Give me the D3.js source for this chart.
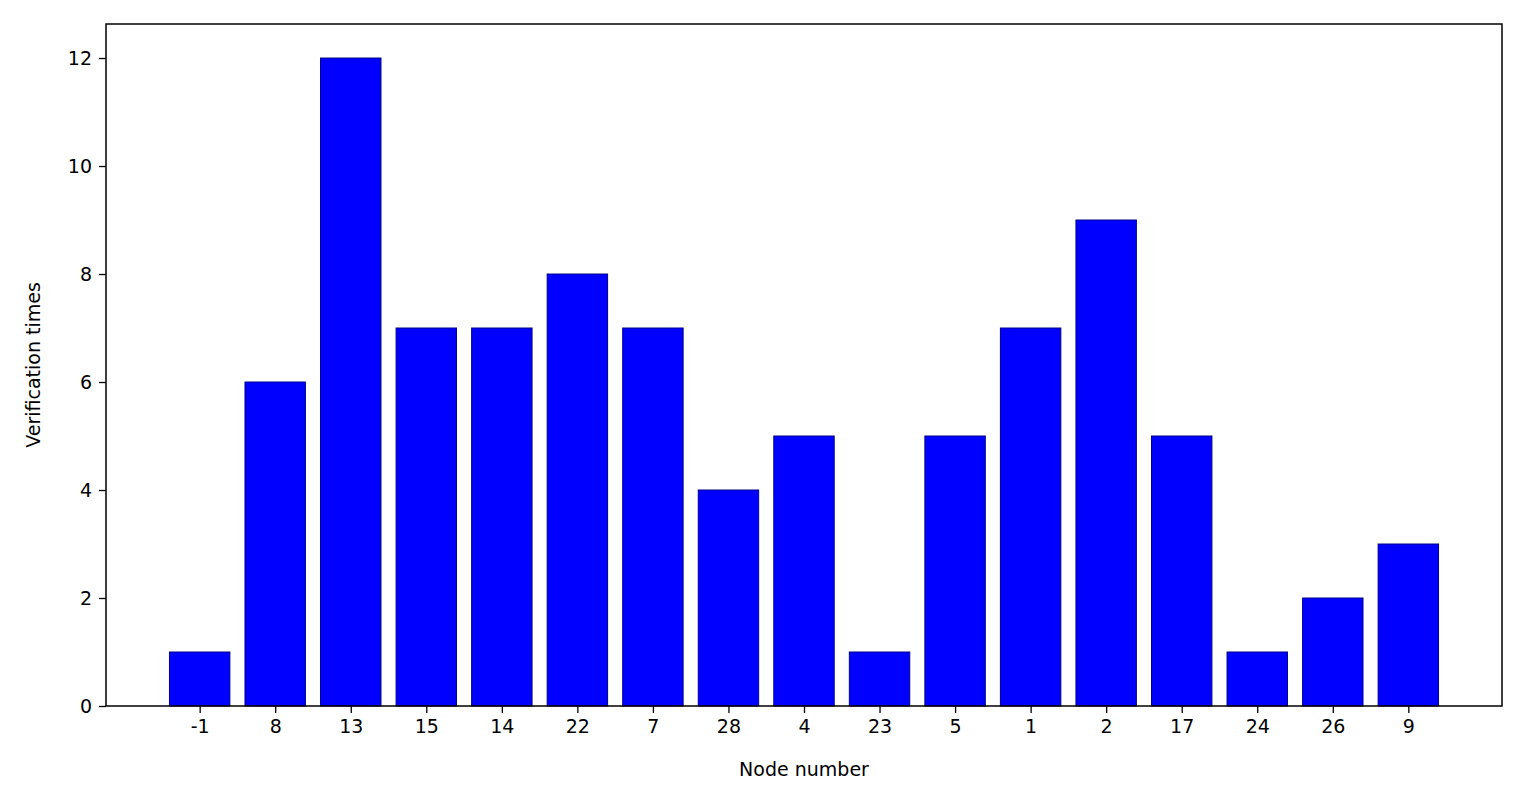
<!DOCTYPE html>
<html>
<head>
<meta charset="utf-8">
<script src="https://cdn.jsdelivr.net/npm/d3@7"></script>
<style>
  body { margin: 0; background: #fff; }
  text { font-family: "DejaVu Sans", sans-serif; fill: #000; }
</style>
</head>
<body>
<div id="chart"></div>
<script>
// data
var nodes = ["-1", "8", "13", "15", "14", "22", "7", "28", "4", "23", "5", "1", "2", "17", "24", "26", "9"];
var times = [1, 6, 12, 7, 7, 8, 7, 4, 5, 1, 5, 7, 9, 5, 1, 2, 3];
var yTicks = [0, 2, 4, 6, 8, 10, 12];

var svgWidth = 1521, svgHeight = 802;
var margin = { top: 24, right: 19, bottom: 96, left: 106 };
var width = svgWidth - margin.left - margin.right;
var height = svgHeight - margin.top - margin.bottom;

var svg = d3.select("#chart").append("svg")
  .attr("width", svgWidth)
  .attr("height", svgHeight);

var chartGroup = svg.append("g")
  .attr("transform", `translate(${margin.left}, ${margin.top})`);

// bar positions like matplotlib: index with 0.8 width and 5% margins
var xScale = d3.scaleLinear().domain([-1.24, nodes.length - 1 + 1.24]).range([0, width]);
var yScale = d3.scaleLinear().domain([0, 12.63]).range([height, 0]);
var barW = xScale(0.8) - xScale(0);

chartGroup.selectAll("rect.bar")
  .data(times)
  .enter()
  .append("rect")
  .classed("bar", true)
  .attr("x", (d, i) => xScale(i - 0.4))
  .attr("y", d => yScale(d))
  .attr("width", barW)
  .attr("height", d => height - yScale(d))
  .attr("fill", "#0000ff")
  .attr("stroke", "#00008b")
  .attr("stroke-width", 1);

// axes
var bottomAxis = d3.axisBottom(xScale)
  .tickValues(d3.range(nodes.length))
  .tickFormat(i => nodes[i])
  .tickSize(7).tickPadding(7);
var leftAxis = d3.axisLeft(yScale).tickValues(yTicks).tickSize(7).tickPadding(7);

var xAxis = chartGroup.append("g")
  .attr("transform", `translate(0, ${height})`)
  .call(bottomAxis);
var yAxis = chartGroup.append("g").call(leftAxis);

[xAxis, yAxis].forEach(function(a) {
  a.select(".domain").remove();
  a.selectAll("line").attr("stroke", "#000").attr("stroke-width", 1.3);
  a.selectAll("text").attr("font-size", "19px").attr("font-family", "DejaVu Sans, sans-serif");
});

// frame
chartGroup.append("rect")
  .attr("width", width).attr("height", height)
  .attr("fill", "none").attr("stroke", "#000").attr("stroke-width", 1.5);

// labels
chartGroup.append("text")
  .attr("x", width / 2)
  .attr("y", height + 70)
  .attr("text-anchor", "middle")
  .attr("font-size", "19px")
  .text("Node number");

chartGroup.append("text")
  .attr("transform", "rotate(-90)")
  .attr("x", 0 - height / 2)
  .attr("y", -66)
  .attr("text-anchor", "middle")
  .attr("font-size", "19px")
  .text("Verification times");
</script>
</body>
</html>
